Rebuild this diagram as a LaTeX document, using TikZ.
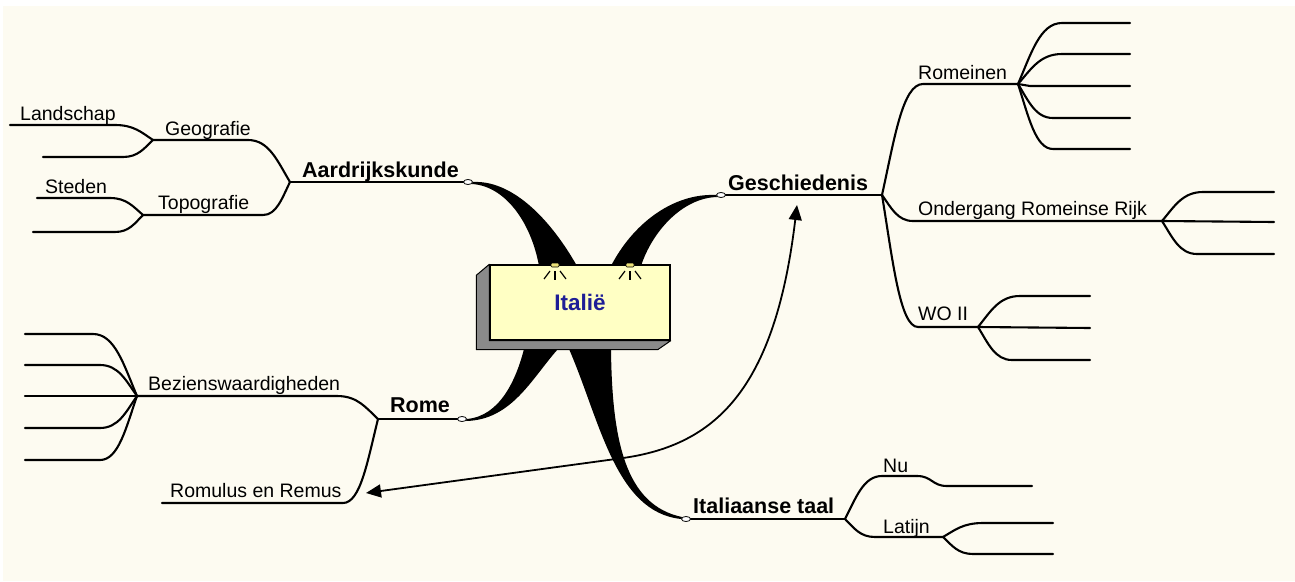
\documentclass[tikz,border=0pt]{standalone}
\usepackage{fontspec}
\setmainfont{Liberation Sans}
\usetikzlibrary{arrows.meta,calc,shapes.geometric}
\definecolor{bg}{RGB}{253,251,241}
\definecolor{boxfill}{RGB}{255,255,196}
\definecolor{boxside}{RGB}{138,138,138}
\definecolor{titleblue}{RGB}{30,30,150}
\definecolor{lampc}{RGB}{235,225,120}
% twig: line from #1 to #2, then S-curve from #2 into junction #3
\newcommand\twig[3]{\draw[branch] let \p1=(#2), \p2=(#3) in (#1) -- (\p1) .. controls ({0.5*\x1+0.5*\x2},\y1) and ({0.3*\x1+0.7*\x2},{0.5*\y1+0.5*\y2}) .. (\p2);}
\begin{document}
\begin{tikzpicture}[x=1pt,y=-1pt,
  branch/.style={line width=2.1pt, line cap=round, line join=round},
  lbl/.style={anchor=base west, inner sep=0pt, font=\fontsize{19.5}{23}\selectfont},
  mainlbl/.style={anchor=base west, inner sep=0pt, font=\bfseries\fontsize{21.5}{25}\selectfont},
  knob/.style={draw, fill=white, shape=ellipse, line width=0.8pt, minimum width=9pt, minimum height=5pt, inner sep=0pt},
  link/.style={line width=1.8pt, {Triangle[length=15pt,width=13pt]}-{Triangle[length=15pt,width=13pt]}},
  ray/.style={line width=1.2pt},
  lampbox/.style={draw, fill=lampc, minimum width=8pt, minimum height=4pt, inner sep=0pt, rounded corners=1pt, line width=0.6pt},
  boxstyle/.style={draw, fill=boxfill, line width=1.4pt, minimum width=180pt, minimum height=75pt, inner sep=0pt,
      text=titleblue, font=\bfseries\fontsize{22.5}{26}\selectfont},
]
\useasboundingbox (0,0) rectangle (1295,581);
\fill[white] (0,0) rectangle (1295,581);
\fill[bg] (3,6) rectangle (1295,581);

% ---------- Aardrijkskunde ----------
\coordinate (JA) at (290,182);
\coordinate (JG) at (153,140); \coordinate (hG) at (248,140);
\coordinate (JT) at (143,215); \coordinate (hT) at (263,215);
\coordinate (L1s) at (10,125);  \coordinate (L1h) at (115,125);
\coordinate (L2s) at (43,157);  \coordinate (L2h) at (123,157);
\coordinate (S1s) at (37,198);  \coordinate (S1h) at (110,198);
\coordinate (S2s) at (33,232);  \coordinate (S2h) at (115,232);
\node[knob] (oA) at (468,182) {};
\draw[branch] (JA) -- (oA.west);
\twig{JG}{hG}{JA}
\twig{JT}{hT}{JA}
\twig{L1s}{L1h}{JG}
\twig{L2s}{L2h}{JG}
\twig{S1s}{S1h}{JT}
\twig{S2s}{S2h}{JT}

% ---------- Geschiedenis ----------
\coordinate (JGe) at (882,195);
\coordinate (hR) at (923,84);  \coordinate (JR) at (1018,84);
\coordinate (hO) at (913,221); \coordinate (JO) at (1162,221);
\coordinate (hW) at (918,327); \coordinate (JW) at (978,327);
\node[knob] (oG) at (721,195) {};
\draw[branch] (oG.east) -- (JGe);
\twig{JR}{hR}{JGe}
\twig{JO}{hO}{JGe}
\twig{JW}{hW}{JGe}
% Romeinen fan
\coordinate (R1e) at (1130,23);  \coordinate (R1s) at (1062,23);
\coordinate (R2e) at (1130,54);  \coordinate (R2s) at (1062,54);
\coordinate (R3e) at (1130,86);
\coordinate (R4e) at (1130,118); \coordinate (R4s) at (1053,118);
\coordinate (R5e) at (1130,149); \coordinate (R5s) at (1053,149);
\twig{R1e}{R1s}{JR}
\twig{R2e}{R2s}{JR}
\draw[branch] (JR) -- (1030,86) -- (R3e);
\twig{R4e}{R4s}{JR}
\twig{R5e}{R5s}{JR}
% Ondergang fan
\coordinate (O1e) at (1274,192); \coordinate (O1s) at (1203,192);
\coordinate (O2e) at (1274,222);
\coordinate (O3e) at (1274,254); \coordinate (O3s) at (1197,254);
\twig{O1e}{O1s}{JO}
\draw[branch] (JO) -- (O2e);
\twig{O3e}{O3s}{JO}
% WO II fan
\coordinate (W1e) at (1090,296); \coordinate (W1s) at (1020,296);
\coordinate (W2e) at (1090,328);
\coordinate (W3e) at (1090,360); \coordinate (W3s) at (1012,360);
\twig{W1e}{W1s}{JW}
\draw[branch] (JW) -- (W2e);
\twig{W3e}{W3s}{JW}

% ---------- Rome ----------
\coordinate (JRo) at (378,419);
\coordinate (hB) at (337,396); \coordinate (JB) at (137,396);
\coordinate (RRs) at (162,503); \coordinate (RRh) at (343,503);
\node[knob] (oR) at (462,419) {};
\draw[branch] (JRo) -- (oR.west);
\twig{JB}{hB}{JRo}
\twig{RRs}{RRh}{JRo}
\coordinate (B1s) at (25,334); \coordinate (B1h) at (93,334);
\coordinate (B2s) at (25,365); \coordinate (B2h) at (100,365);
\coordinate (B3s) at (25,396);
\coordinate (B4s) at (25,428); \coordinate (B4h) at (100,428);
\coordinate (B5s) at (25,460); \coordinate (B5h) at (100,460);
\twig{B1s}{B1h}{JB}
\twig{B2s}{B2h}{JB}
\draw[branch] (B3s) -- (JB);
\twig{B4s}{B4h}{JB}
\twig{B5s}{B5h}{JB}

% ---------- Italiaanse taal ----------
\coordinate (JI) at (845,519);
\coordinate (hN) at (882,476); \coordinate (n2) at (917,476);
\coordinate (n3) at (947,486); \coordinate (n4) at (1032,486);
\coordinate (hLa) at (875,537); \coordinate (JLa) at (943,537);
\node[knob] (oI) at (686,519) {};
\draw[branch] (oI.east) -- (JI);
\twig{n2}{hN}{JI}
\draw[branch] (n2) .. controls (932,476) and (932,486) .. (n3) -- (n4);
\twig{JLa}{hLa}{JI}
\coordinate (La1e) at (1053,523); \coordinate (La1s) at (983,523);
\coordinate (La2e) at (1053,554); \coordinate (La2s) at (973,554);
\twig{La1e}{La1s}{JLa}
\twig{La2e}{La2s}{JLa}

% ---------- tapered main branches ----------
\fill (oA.east) .. controls (510,180) and (548,215) .. (577,266) -- (539,266) .. controls (531,222) and (505,186) .. (472,184) -- cycle;
\fill (oG.west) .. controls (672,193) and (632,225) .. (611,266) -- (641,266) .. controls (652,232) and (682,198) .. (717,197) -- cycle;
\fill (oR.east) .. controls (500,416) and (516,380) .. (524,349) -- (558,349) .. controls (532,378) and (512,420) .. (466,421) -- cycle;
\fill (569,349) .. controls (600,420) and (615,512) .. (oI.west) -- (682,517) .. controls (625,505) and (612,440) .. (611,349) -- cycle;

% ---------- central box ----------
\coordinate (bc) at (580,302.5);
\node[boxstyle] (box) at (bc) {};
\fill[boxside, draw=black, line width=1pt, line join=round] (box.north west) -- ++(-13,11) -- ($(box.south west)+(-13,9)$) -- ($(box.south east)+(-13,9)$) -- (box.south east) -- (box.south west) -- cycle;
\node[boxstyle] (center) at (bc) {Itali\"e};
\node[lampbox] (lamp1) at (555,265) {};
\node[lampbox] (lamp2) at (630,265) {};
\foreach \l in {lamp1,lamp2}{
  \draw[ray] ($(\l)+(-5,6)$) -- ++(-6,8);
  \draw[ray] ($(\l)+(0,6)$) -- ++(0,9);
  \draw[ray] ($(\l)+(5,6)$) -- ++(6,8);
}

% ---------- cross link ----------
\coordinate (aL) at (366,493);
\coordinate (aM) at (623,458);
\coordinate (aT) at (797,205);
\draw[link] (aL) -- (aM) .. controls (715,445) and (775,390) .. (aT);

% ---------- labels ----------
\node[lbl] (tLand) at (20,120) {Landschap};
\node[lbl] (tGeo) at (165,135) {Geografie};
\node[lbl] (tSted) at (45,193) {Steden};
\node[lbl] (tTopo) at (158,209) {Topografie};
\node[mainlbl] (tAard) at (302,177) {Aardrijkskunde};
\node[mainlbl] (tGesch) at (728,190) {Geschiedenis};
\node[lbl] (tRom) at (918,79) {Romeinen};
\node[lbl] (tOnd) at (918,215) {Ondergang Romeinse Rijk};
\node[lbl] (tWO) at (918,320) {WO II};
\node[lbl] (tBez) at (148,390) {Bezienswaardigheden};
\node[mainlbl] (tRome) at (390,412) {Rome};
\node[lbl] (tRR) at (170,497) {Romulus en Remus};
\node[mainlbl] (tIt) at (693,513) {Italiaanse taal};
\node[lbl] (tNu) at (883,472) {Nu};
\node[lbl] (tLat) at (883,533) {Latijn};
\end{tikzpicture}
\end{document}
